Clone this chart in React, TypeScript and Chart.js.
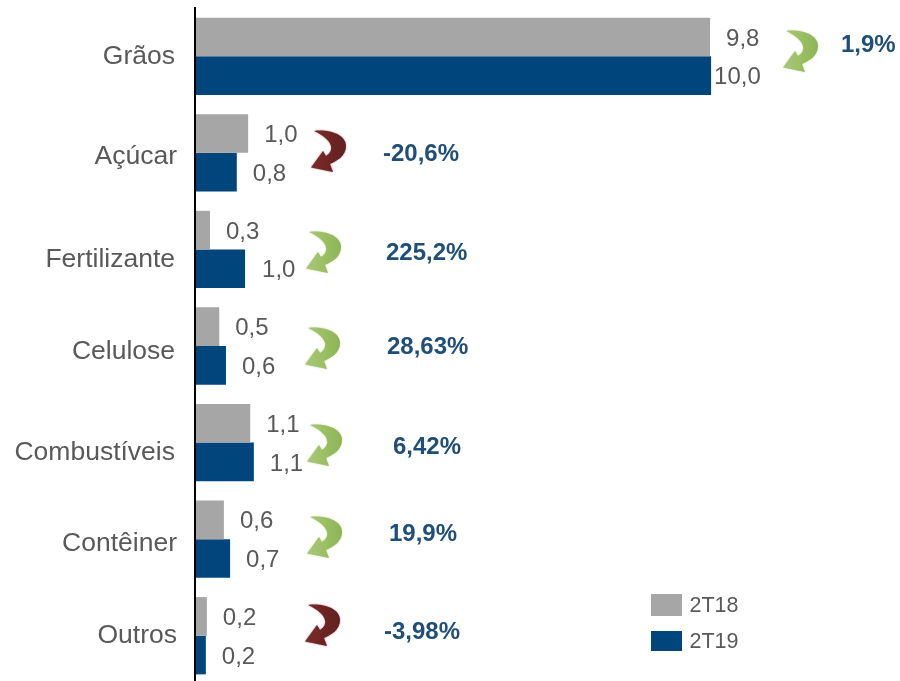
import React, { useEffect, useRef } from "react";
import { Chart, registerables } from "chart.js";

Chart.register(...registerables);

const categories = ["Grãos", "Açúcar", "Fertilizante", "Celulose", "Combustíveis", "Contêiner", "Outros"];
const series2T18 = [9.98, 1.03, 0.29, 0.47, 1.07, 0.56, 0.23];
const series2T19 = [10.0, 0.81, 0.97, 0.6, 1.14, 0.68, 0.21];
const labels2T18 = ["9,8", "1,0", "0,3", "0,5", "1,1", "0,6", "0,2"];
const labels2T19 = ["10,0", "0,8", "1,0", "0,6", "1,1", "0,7", "0,2"];
const changes = ["1,9%", "-20,6%", "225,2%", "28,63%", "6,42%", "19,9%", "-3,98%"];
const rising = [true, false, true, true, true, true, false];

// Layout of hand-placed annotations (not data)
const tickNudge = [[0, 0], [2, 4], [0, 10], [0, 6], [0, 10], [2, 5], [2, 0]];
const changeLeft = [841, 383, 386, 387, 393, 389, 384];
const changeCenterY = [45, 154, 253, 347, 447, 534, 632];
const arrowOrigin = [[770, 20], [298, 120], [293, 221], [292, 317], [294, 414], [294, 506], [292, 594]];
const value19Gap = [3, 16, 17, 16, 16, 16, 16];

const FONT = "'Liberation Sans', Arial, sans-serif";
const TEXT = "#595959";

function arrowPath(ox: number, oy: number) {
  const p = new Path2D();
  const x = (v: number) => ox + v;
  const y = (v: number) => oy + v;
  p.moveTo(x(16), y(11));
  p.bezierCurveTo(x(30), y(9), x(48), y(14), x(48), y(26));
  p.bezierCurveTo(x(48), y(36), x(39), y(41), x(32), y(44));
  p.lineTo(x(35), y(52));
  p.lineTo(x(13), y(47.5));
  p.lineTo(x(25), y(31));
  p.lineTo(x(28), y(36));
  p.bezierCurveTo(x(36), y(31), x(37), y(21), x(16), y(11));
  p.closePath();
  return p;
}

const nudgeTicks = {
  id: "nudgeTicks",
  beforeDraw(chart: any) {
    const scale = chart.scales.y;
    const items = scale.getLabelItems();
    if (scale.$nudged === items) return;
    items.forEach((item: any, i: number) => {
      const t = item.options.translation;
      item.options.translation = [t[0] + tickNudge[i][0], t[1] + tickNudge[i][1]];
    });
    scale.$nudged = items;
  },
};

const annotations = {
  id: "annotations",
  afterDatasetsDraw(chart: any) {
    const ctx = chart.ctx;
    const gray = chart.getDatasetMeta(0).data;
    const blue = chart.getDatasetMeta(1).data;
    ctx.save();
    ctx.textBaseline = "middle";
    ctx.textAlign = "left";

    ctx.font = `24px ${FONT}`;
    ctx.fillStyle = TEXT;
    categories.forEach((_, i) => {
      ctx.fillText(labels2T18[i], gray[i].x + 16, gray[i].y + 2);
      ctx.fillText(labels2T19[i], blue[i].x + value19Gap[i], blue[i].y + 2);
    });

    ctx.font = `bold 24px ${FONT}`;
    ctx.fillStyle = "#1F4E79";
    changes.forEach((c, i) => ctx.fillText(c, changeLeft[i], changeCenterY[i]));

    rising.forEach((up, i) => {
      const [ox, oy] = arrowOrigin[i];
      const g = ctx.createLinearGradient(ox + 13, 0, ox + 47, 0);
      g.addColorStop(0, up ? "#A9C77E" : "#7A2E2C");
      g.addColorStop(0.5, up ? "#9CC063" : "#6E2523");
      g.addColorStop(1, up ? "#8DB557" : "#612220");
      ctx.fillStyle = g;
      ctx.shadowColor = up ? "rgba(156,192,99,0.6)" : "rgba(110,37,35,0.6)";
      ctx.shadowBlur = 2;
      ctx.fill(arrowPath(ox, oy));
    });
    ctx.shadowBlur = 0;
    ctx.shadowColor = "transparent";

    ctx.font = `21.5px ${FONT}`;
    chart.data.datasets.forEach((ds: any, i: number) => {
      const top = i === 0 ? 594 : 631;
      const h = i === 0 ? 22 : 20;
      ctx.fillStyle = ds.backgroundColor;
      ctx.fillRect(651, top, 31, h);
      ctx.fillStyle = TEXT;
      ctx.fillText(ds.label, 689.5, top + h / 2 + 1);
    });
    ctx.restore();
  },
};

export default function App() {
  const ref = useRef<HTMLCanvasElement>(null);
  useEffect(() => {
    const chart = new Chart(ref.current!, {
      type: "bar",
      data: {
        labels: categories,
        datasets: [
          { label: "2T18", data: series2T18, backgroundColor: "#A6A6A6", categoryPercentage: 0.8, barPercentage: 1 },
          { label: "2T19", data: series2T19, backgroundColor: "#00457C", categoryPercentage: 0.8, barPercentage: 1 },
        ],
      },
      options: {
        indexAxis: "y",
        animation: false,
        responsive: false,
        layout: { padding: { top: 8, right: 0, bottom: 0, left: 0 } },
        plugins: { legend: { display: false }, tooltip: { enabled: false } },
        scales: {
          x: { display: false, min: 0, max: 13.66 },
          y: {
            afterFit(scale: any) {
              scale.width = 195;
              scale.paddingTop = 0;
              scale.paddingBottom = 0;
            },
            grid: { display: false, drawTicks: false },
            border: { display: true, color: "#000000", width: 2, z: 1 },
            ticks: { padding: 20, color: TEXT, font: { family: FONT, size: 26.5 } },
          },
        },
      },
      plugins: [nudgeTicks, annotations],
    } as any);
    return () => chart.destroy();
  }, []);
  return (
    <div style={{ position: "fixed", left: 0, top: 0, width: 900, height: 681, overflow: "hidden", background: "#fff" }}>
      <canvas ref={ref} width={900} height={684} style={{ display: "block" }} />
    </div>
  );
}
